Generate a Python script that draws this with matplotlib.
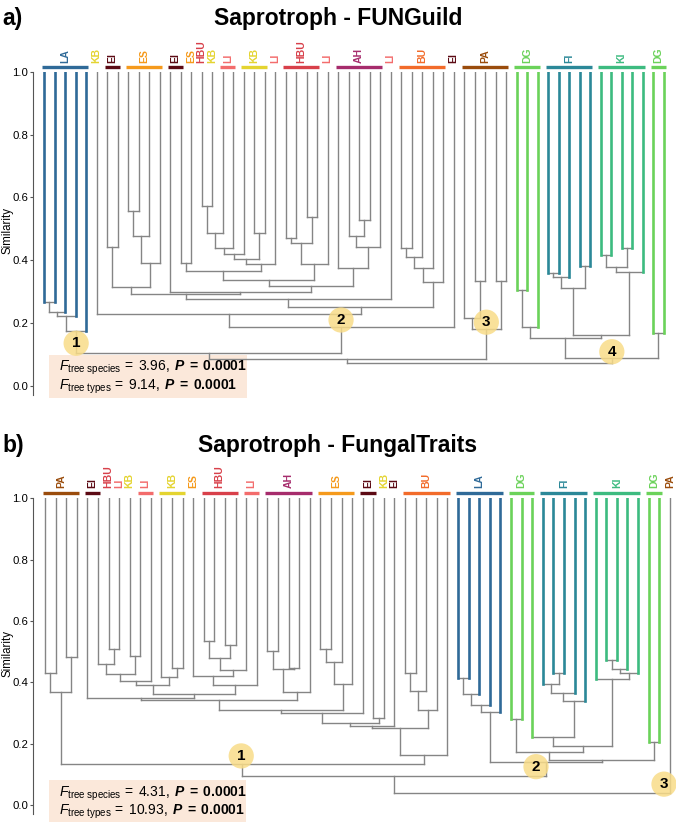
import matplotlib
matplotlib.use("Agg")
import matplotlib.pyplot as plt
import matplotlib.transforms as mtransforms
from matplotlib.patches import Rectangle
from matplotlib import rcParams

rcParams["font.family"] = ["Liberation Sans", "DejaVu Sans"]
rcParams["mathtext.fontset"] = "custom"
rcParams["mathtext.rm"] = "Liberation Sans"
rcParams["mathtext.it"] = "Liberation Sans:italic"
rcParams["mathtext.bf"] = "Liberation Sans:bold"
rcParams["mathtext.bfit"] = "Liberation Sans:bold:italic"

GRAY = "#858585"
MARK = "#f8dc88"
BOXC = "#fbe8da"
COLORS = {"LA": "#2f6a98", "KB": "#e4d430", "EI": "#5c0a14", "ES": "#f59a1c",
          "HBU": "#d8404a", "LI": "#f36c6c", "AH": "#a62c6c", "BU": "#f26b2a",
          "PA": "#9a4c0c", "DG": "#6bd25a", "FI": "#2b8898", "KI": "#3dbb80"}
STEM_COLORED = {"LA", "DG", "FI", "KI"}

# ---------------- a) Saprotroph - FUNGuild ----------------
A_TYPES = (["LA"] * 5 + ["KB"] + ["EI"] * 2 + ["ES"] * 4 + ["EI"] * 2 + ["ES", "HBU", "KB"]
           + ["LI"] * 2 + ["KB"] * 3 + ["LI"] + ["HBU"] * 4 + ["LI"] + ["AH"] * 5 + ["LI"]
           + ["BU"] * 5 + ["EI"] + ["PA"] * 5 + ["DG"] * 3 + ["FI"] * 5 + ["KI"] * 5 + ["DG"] * 2)
# (node, left, right, similarity); ints are leaves
A_MERGES = [
    ("la1", 0, 1, 0.268), ("la2", "la1", 2, 0.236), ("la3", "la2", 3, 0.224), ("la4", "la3", 4, 0.176),
    ("ei1", 6, 7, 0.443),
    ("es1", 8, 9, 0.558), ("es2", "es1", 10, 0.478), ("es3", "es2", 11, 0.392),
    ("eies", "ei1", "es3", 0.314),
    ("m13", 13, 14, 0.392),
    ("h1", 15, 16, 0.573), ("h2", "h1", 17, 0.486), ("h3", "h2", 18, 0.440), ("h4", "h3", 19, 0.420),
    ("kb2", 20, 21, 0.486), ("h5", "h4", "kb2", 0.403), ("h6", "h5", 22, 0.388),
    ("m13h", "m13", "h6", 0.366),
    ("hb1", 23, 24, 0.470), ("hb2", 25, 26, 0.537), ("hb3", "hb1", "hb2", 0.456), ("hb4", "hb3", 27, 0.388),
    ("P", "m13h", "hb4", 0.337),
    ("ah1", 30, 31, 0.528), ("ah2", 29, "ah1", 0.477), ("ah3", "ah2", 32, 0.441), ("ah4", 28, "ah3", 0.374),
    ("Q", "P", "ah4", 0.318),
    ("R", 12, "Q", 0.300),
    ("S", "eies", "R", 0.293),
    ("Y", "S", 33, 0.276),
    ("bu1", 34, 35, 0.438), ("bu2", "bu1", 36, 0.409), ("bu3", "bu2", 37, 0.374), ("bu4", "bu3", 38, 0.332),
    ("X", "Y", "bu4", 0.252),
    ("kbx", 5, "X", 0.228),
    ("n2", "kbx", 39, 0.189),
    ("pa1", 41, 42, 0.335), ("pa2", 40, "pa1", 0.215), ("pa3", 43, 44, 0.335), ("n3", "pa2", "pa3", 0.180),
    ("lan2", "la4", "n2", 0.104),
    ("top", "lan2", "n3", 0.087),
    ("dg1", 45, 46, 0.305), ("dg2", "dg1", 47, 0.189),
    ("fi1", 48, 49, 0.358), ("fi2", "fi1", 50, 0.346), ("fi3", 51, 52, 0.383), ("fi4", "fi2", "fi3", 0.311),
    ("ki1", 53, 54, 0.417), ("ki2", 55, 56, 0.438), ("ki3", "ki1", "ki2", 0.380), ("ki4", "ki3", 57, 0.362),
    ("fiki", "fi4", "ki4", 0.162), ("dgfk", "dg2", "fiki", 0.154), ("dg3", 58, 59, 0.168),
    ("n4", "dgfk", "dg3", 0.090),
    ("root", "top", "n4", 0.072),
]
A_MARKERS = [("1", "la4", 0.136, 0.0), ("2", "n2", 0.210, 0.0), ("3", "n3", 0.203, 0.0), ("4", "n4", 0.109, 0.0)]
A_STATS = [("tree species", "3.96"), ("tree types", "9.14")]

# ---------------- b) Saprotroph - FungalTraits ----------------
B_TYPES = (["PA"] * 4 + ["EI"] * 2 + ["HBU", "LI", "KB"] + ["LI"] * 2 + ["KB"] * 3 + ["ES"]
           + ["HBU"] * 4 + ["LI"] * 2 + ["AH"] * 5 + ["ES"] * 4 + ["EI"] * 2 + ["KB", "EI"]
           + ["BU"] * 5 + ["LA"] * 5 + ["DG"] * 3 + ["FI"] * 5 + ["KI"] * 5 + ["DG"] * 2 + ["PA"])
B_MERGES = [
    ("pa1", 0, 1, 0.429), ("pa2", 2, 3, 0.484), ("pa3", "pa1", "pa2", 0.370),
    ("b1", 6, 7, 0.508), ("b2", 5, "b1", 0.460), ("b3", 8, 9, 0.486), ("b4", "b2", "b3", 0.427),
    ("b5", "b4", 10, 0.404), ("b6", 12, 13, 0.446), ("b7", 11, "b6", 0.416), ("b8", "b5", "b7", 0.391),
    ("h1", 15, 16, 0.536), ("h2", 17, 18, 0.522), ("h3", "h1", "h2", 0.480), ("h4", "h3", 19, 0.440),
    ("h5", 14, "h4", 0.421), ("h6", "h5", 20, 0.391),
    ("L0b", "b8", "h6", 0.361),
    ("L0", 4, "L0b", 0.348),
    ("ah1", 21, 22, 0.503), ("ah2", 23, 24, 0.448), ("ah3", "ah1", "ah2", 0.445), ("ah4", "ah3", 25, 0.367),
    ("L1", "L0", "ah4", 0.342),
    ("es1", 26, 27, 0.508), ("es2", "es1", 28, 0.467), ("es3", "es2", 29, 0.395),
    ("L2", "L1", "es3", 0.310),
    ("L3", "L2", 30, 0.299),
    ("ek", 31, 32, 0.285),
    ("L4", "L3", "ek", 0.266),
    ("L5", "L4", 33, 0.258),
    ("bu1", 34, 35, 0.429), ("bu2", "bu1", 36, 0.373), ("bu3", "bu2", 37, 0.310),
    ("K", "L5", "bu3", 0.252),
    ("M", "K", 38, 0.163),
    ("n1", "pa3", "M", 0.134),
    ("la1", 39, 40, 0.415), ("la2", "la1", 41, 0.361), ("la3", "la2", 42, 0.326), ("la4", "la3", 43, 0.304),
    ("dg1", 44, 45, 0.279),
    ("fi1", 48, 49, 0.432), ("fi2", 47, "fi1", 0.395), ("fi3", "fi2", 50, 0.366), ("fi4", "fi3", 51, 0.339),
    ("T", 46, "fi4", 0.223),
    ("ki1", 53, 54, 0.473), ("ki2", "ki1", 55, 0.442), ("ki3", "ki2", 56, 0.429), ("ki4", 52, "ki3", 0.411),
    ("U", "T", "ki4", 0.192),
    ("V", "dg1", "U", 0.174),
    ("dg2", 57, 58, 0.207),
    ("W", "V", "dg2", 0.147),
    ("n2", "la4", "W", 0.141),
    ("top", "n1", "n2", 0.095),
    ("root", "top", 59, 0.040),
]
B_MARKERS = [("1", "n1", 0.160, -0.1), ("2", "n2", 0.125, -0.95), ("3", 59, 0.068, -0.55)]
B_STATS = [("tree species", "4.31"), ("tree types", "10.93")]
P_VALUE = "0.0001"
YTICKS = [0.0, 0.2, 0.4, 0.6, 0.8, 1.0]

W, H = 676, 824
fig = plt.figure(figsize=(W / 100, H / 100), dpi=100)


def runs(types):
    out, start = [], 0
    for i in range(1, len(types) + 1):
        if i == len(types) or types[i] != types[start]:
            out.append((types[start], start, i - 1))
            start = i
    return out


def draw_panel(top_px, unit_px, x0_px, step_px, types, merges, markers, stats,
               bar_y, lab_y, box, stat_y, letter, title, title_y):
    ymin = -0.03
    bot_px = top_px + (1.0 - ymin) * unit_px
    left = 33.3
    ax = fig.add_axes([left / W, (H - bot_px) / H, (W - left) / W, (bot_px - top_px) / H])
    ax.set_xlim((left - x0_px) / step_px, (W - x0_px) / step_px)
    ax.set_ylim(ymin, 1.0)
    ax.patch.set_visible(False)
    for sp in ("top", "right", "bottom"):
        ax.spines[sp].set_visible(False)
    ax.spines["left"].set_color("#555555")
    ax.spines["left"].set_linewidth(0.8)
    ax.set_xticks([])
    ax.set_yticks(YTICKS)
    ax.set_yticklabels([f"{v:.1f}" for v in YTICKS])
    ax.tick_params(axis="y", length=2.5, width=0.8, pad=1, labelsize=8.2, color="#555555")
    ax.set_ylabel("Similarity", fontsize=8.3)
    ax.yaxis.set_label_coords(-0.031, 0.51)

    pos = {i: float(i) for i in range(len(types))}
    hgt = {i: 1.0 for i in range(len(types))}
    for name, a, b, s in merges:
        pos[name] = (pos[a] + pos[b]) / 2
        hgt[name] = s
        for c in (a, b):
            colored = isinstance(c, int) and types[c] in STEM_COLORED
            ax.plot([pos[c], pos[c]], [hgt[c], s],
                    color=COLORS[types[c]] if colored else GRAY,
                    lw=1.9 if colored else 1.0, zorder=3 if colored else 2)
        ax.plot([pos[a], pos[b]], [s, s], color=GRAY, lw=1.0, zorder=2)

    for t, i0, i1 in runs(types):
        c = COLORS[t]
        if i1 > i0:
            ax.plot([i0 - 0.22, i1 + 0.22], [bar_y, bar_y], color=c, lw=2.4,
                    solid_capstyle="butt", clip_on=False)
        ax.text((i0 + i1) / 2, lab_y, t, rotation=90, ha="center", va="bottom",
                color=c, fontsize=7.5, fontweight="bold", clip_on=False)

    for num, node, s, dx in markers:
        ax.scatter(pos[node] + dx, s, s=330, color=MARK, alpha=0.85,
                   edgecolors="none", zorder=5, clip_on=False)
        ax.text(pos[node] + dx, s, num, ha="center", va="center",
                fontsize=11, fontweight="bold", zorder=6)

    trans = mtransforms.blended_transform_factory(ax.transAxes, ax.transData)
    bx0, bx1, by0, by1 = box
    ax.add_patch(Rectangle((bx0, by0), bx1 - bx0, by1 - by0, transform=trans,
                           facecolor=BOXC, edgecolor="none", zorder=1, clip_on=False))
    for (sub, val), y in zip(stats, stat_y):
        sub_tex = sub.replace(" ", r"\ ")
        s = (r"$\mathit{F}_{\mathrm{" + sub_tex + r"}}\mathrm{\,=\;" + val + r",\;}"
             + r"\mathbfit{P}\mathbf{\;=\;" + P_VALUE + r"}$")
        ax.text(0.04, y, s, transform=trans, ha="left", va="center",
                fontsize=10, zorder=4, clip_on=False)

    fig.text(2 / W, 1 - title_y / H, letter, ha="left", va="center",
             fontsize=16.5, fontweight="bold")
    fig.text(338 / W, 1 - title_y / H, title, ha="center", va="center",
             fontsize=16.5, fontweight="bold")


draw_panel(71.7, 314.3, 44.0, 10.5, A_TYPES, A_MERGES, A_MARKERS, A_STATS,
           1.014, 1.027, (0.0244, 0.3325, -0.038, 0.099), (0.057, -0.004),
           "a)", "Saprotroph - FUNGuild", 18)
draw_panel(498.3, 306.7, 45.0, 10.59, B_TYPES, B_MERGES, B_MARKERS, B_STATS,
           1.016, 1.032, (0.0244, 0.331, -0.055, 0.0815), (0.037, -0.022),
           "b)", "Saprotroph - FungalTraits", 445)

fig.savefig("out.png", dpi=100, facecolor="white")
